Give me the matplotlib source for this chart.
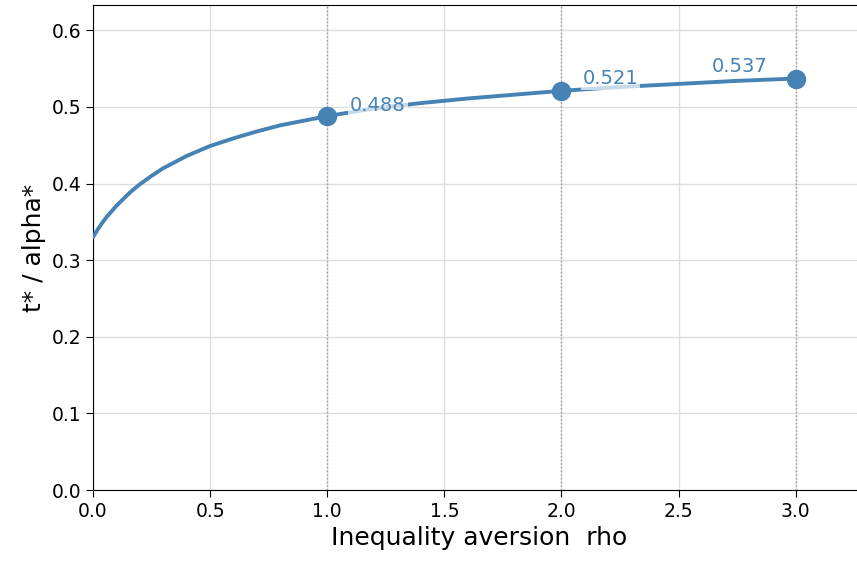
import numpy as np
import matplotlib
matplotlib.use("Agg")
import matplotlib.pyplot as plt

# optimal ratio t*/alpha* along inequality aversion rho
rho = [0.0, 0.02, 0.04, 0.06, 0.08, 0.1, 0.13, 0.16, 0.2, 0.25, 0.3, 0.35, 0.4,
       0.5, 0.6, 0.7, 0.8, 0.9, 1.0, 1.2, 1.4, 1.6, 1.8, 2.0, 2.25, 2.5, 2.75, 3.0]
ratio = [0.330, 0.340, 0.349, 0.357, 0.364, 0.371, 0.380, 0.389, 0.399, 0.410, 0.420, 0.428, 0.436,
         0.449, 0.459, 0.468, 0.476, 0.482, 0.488, 0.498, 0.505, 0.511, 0.516, 0.521, 0.526, 0.530, 0.534, 0.537]

# highlighted points
rho_pts = [1.0, 2.0, 3.0]
ratio_pts = [0.488, 0.521, 0.537]
pt_labels = ["0.488", "0.521", "0.537"]
label_offsets = [(23, 5), (21, 7), (-28, 7)]
label_ha = ["left", "left", "right"]

col = "#4682b4"

fig = plt.figure(figsize=(8.57, 5.63), dpi=100)
ax = fig.add_axes([93 / 857, 73 / 563, 773 / 857, 485 / 563])

ax.plot(rho, ratio, color=col, lw=2.8, zorder=3, solid_capstyle="round")
ax.plot(rho_pts, ratio_pts, "o", color=col, ms=13, zorder=4)
for r in rho_pts:
    ax.axvline(r, color="#999999", ls=":", lw=1, zorder=2)

for r, v, s, off, ha in zip(rho_pts, ratio_pts, pt_labels, label_offsets, label_ha):
    ax.annotate(s, xy=(r, v), xytext=off, textcoords="offset pixels",
                ha=ha, va="baseline", fontsize=14, color=col, zorder=5,
                bbox=dict(boxstyle="square,pad=0.1", fc="white", ec="none", alpha=0.7))

ax.set_xlim(0, 3.3)
ax.set_ylim(0, 0.633)
ax.set_xticks(np.arange(0, 3.01, 0.5))
ax.set_yticks(np.arange(0, 0.61, 0.1))
ax.grid(True, color="#dddddd", lw=1)
ax.set_axisbelow(True)
ax.tick_params(labelsize=13.5, length=5)

ax.set_xlabel("Inequality aversion  rho", fontsize=18)
ax.set_ylabel("t* / alpha*", fontsize=18)

fig.savefig("out.png", dpi=100)
